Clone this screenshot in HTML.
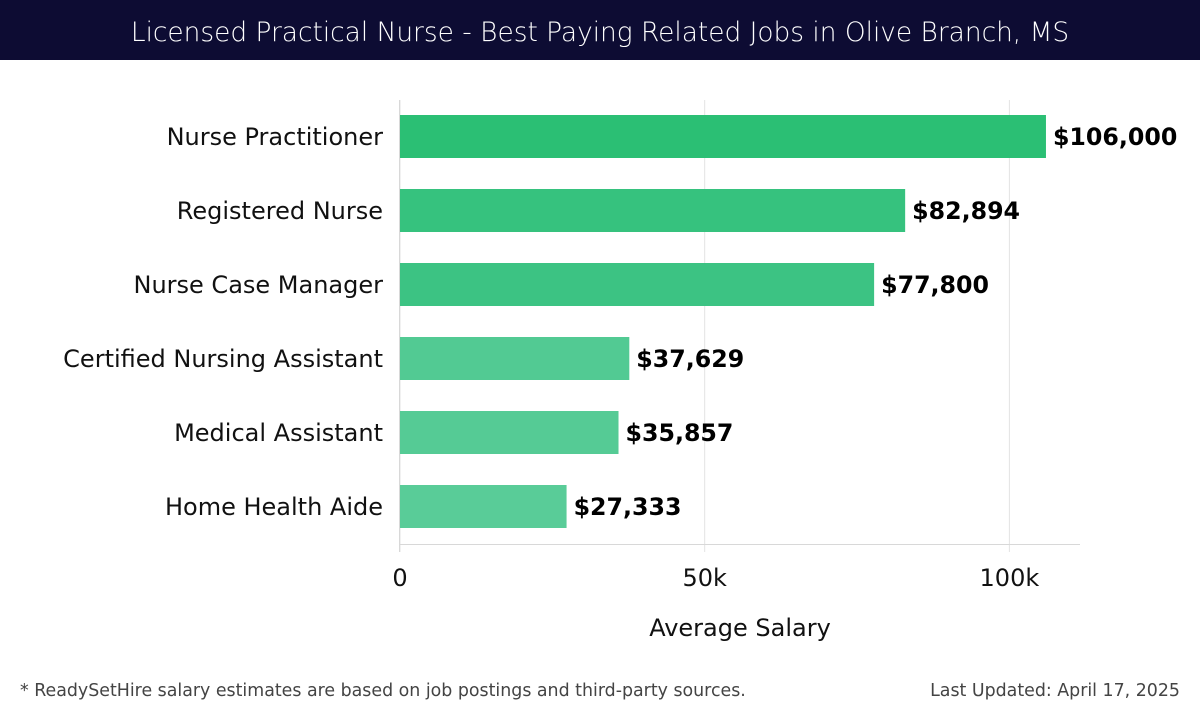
<!DOCTYPE html>
<html><head><meta charset="utf-8"><style>
body{margin:0;width:1200px;height:720px;background:#fff;font-family:"DejaVu Sans","Liberation Sans",sans-serif;overflow:hidden}
#title{position:absolute;left:0;top:0;width:1200px;height:60px;background:#0d0c33;color:#fff;font-size:26.4px;text-align:center;line-height:66px;font-weight:300}
.foot{position:absolute;top:681px;font-size:17.4px;color:#444}
</style></head><body>
<div id="title">Licensed Practical Nurse - Best Paying Related Jobs in Olive Branch, MS</div>
<svg id="chart" width="1200" height="720" style="position:absolute;left:0;top:0"></svg>
<div class="foot" style="left:20px">* ReadySetHire salary estimates are based on job postings and third-party sources.</div>
<div class="foot" style="right:20px">Last Updated: April 17, 2025</div>
<script>
const categories=["Nurse Practitioner","Registered Nurse","Nurse Case Manager","Certified Nursing Assistant","Medical Assistant","Home Health Aide"];
const values=[106000,82894,77800,37629,35857,27333];
const valueLabels=["$106,000","$82,894","$77,800","$37,629","$35,857","$27,333"];
const ticks=[0,50000,100000];
const tickLabels=["0","50k","100k"];
const colors=["#2bbf74","#36c27e","#3cc383","#52ca93","#55cb95","#59cc98"];
const svg=document.getElementById('chart');const NS="http://www.w3.org/2000/svg";
const x=v=>400+v*0.006094;
const y=i=>115+i*74;
function mk(t,a){const e=document.createElementNS(NS,t);for(const k in a)e.setAttribute(k,a[k]);svg.appendChild(e);return e;}
ticks.forEach((t,i)=>{
 const g=mk('line',{x1:x(t),x2:x(t),y1:100,y2:552,stroke:'#e3e3e3','stroke-width':1});
 
 
 const tl=mk('text',{x:x(t),y:586,'text-anchor':'middle','font-size':24,fill:'#111'});tl.textContent=tickLabels[i];
 
 
});
const ax=mk('line',{x1:400,x2:1080,y1:544.5,y2:544.5,stroke:'#d8d8d8'});


const ay=mk('line',{x1:399.5,x2:399.5,y1:100,y2:552,stroke:'#d8d8d8'});


categories.forEach((c,i)=>{
 const r=mk('rect',{x:400,y:y(i),width:x(values[i])-400,height:43,fill:colors[i]});
 
 
 const l=mk('text',{x:383,y:y(i)+30,'text-anchor':'end','font-size':24,fill:'#111'});l.textContent=c;
 
 
 const v=mk('text',{x:x(values[i])+7,y:y(i)+30,'font-size':23.7,'font-weight':'bold',fill:'#000'});v.textContent=valueLabels[i];
 
 
});
const at=mk('text',{x:740,y:636,'text-anchor':'middle','font-size':24,fill:'#111'});at.textContent="Average Salary";


</script>
</body></html>
